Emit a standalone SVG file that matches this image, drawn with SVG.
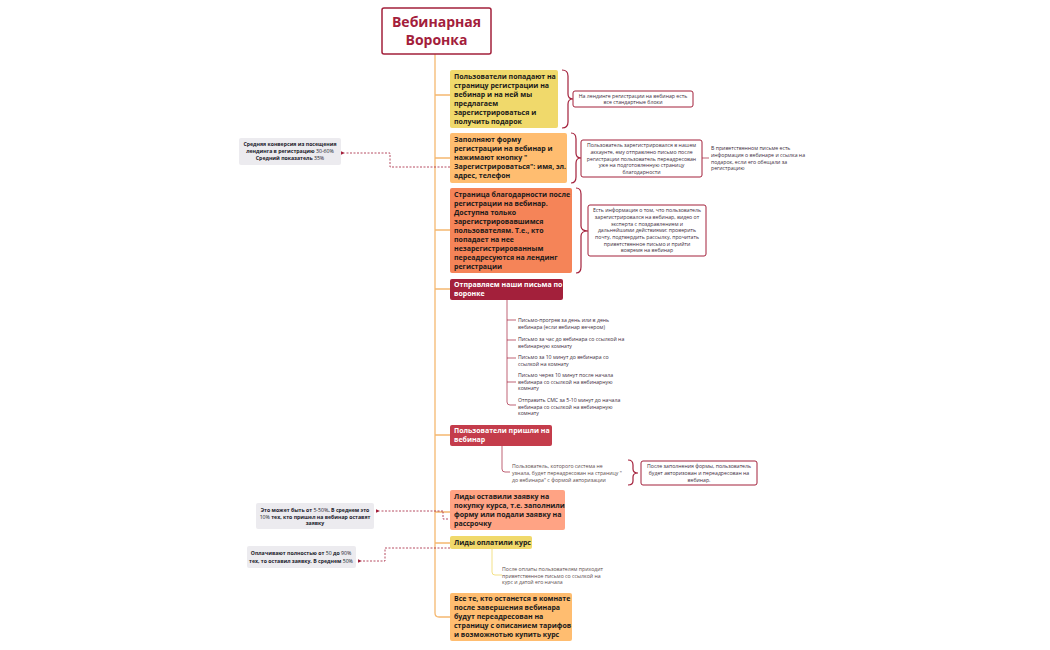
<svg xmlns="http://www.w3.org/2000/svg" width="1050" height="650" viewBox="0 0 1050 650">
<style>
text{font-family:"Open Sans","DejaVu Sans",sans-serif}
.n{font-size:7px;font-weight:bold;fill:#1a1a1a}
.w{font-size:7px;font-weight:bold;fill:#fff}
.s{font-size:5.2px;fill:#3a2a3a}
.sl{font-size:5.2px;fill:#5a4a4a}
.g{font-size:5.2px;font-weight:bold;fill:#1a1a2a}
.box{fill:#fff;stroke:#a3203b;stroke-width:1}
.note{fill:#ecebef;rx:2}
.tr{fill:none;stroke:#f5b870;stroke-width:1.3}
.br{fill:none;stroke:#a3203b;stroke-width:1.2}
.dl{fill:none;stroke:#a3203b;stroke-width:0.8;stroke-dasharray:2 1.5}
.rl{fill:none;stroke:#a3203b;stroke-width:0.7}
</style>
<defs><marker id="a" markerWidth="6" markerHeight="6" refX="1" refY="3" orient="auto"><path d="M6,0.8 L1,3 L6,5.2z" fill="#a3203b"/></marker></defs>
<rect width="1050" height="650" fill="#fff"/>
<g id="connectors">
<path class="tr" d="M435,54 V613 Q435,617 439,617 H450 M435,95 H450 M435,158 H450 M435,230 H450 M435,289 H450 M435,435 H450 M435,512 H450 M435,543 H450"/>
<path class="rl" d="M507,300 V402 Q507,405 510,405 H516 M507,320 H516 M507,340 H516 M507,358 H516 M507,382 H516"/>
<path class="rl" d="M502,446 V469 Q502,472 505,472 H510"/>
<path fill="none" stroke="#f0d96b" stroke-width="0.8" d="M492,549 V572 Q492,575 495,575 H502"/>
<path class="br" d="M562,70 Q568,70 568,76 V94 Q568,99 573,99 Q568,99 568,104 V122 Q568,128 562,128"/>
<path class="br" d="M571,133 Q576,133 576,139 V153 Q576,158 581,158 Q576,158 576,163 V177 Q576,183 571,183"/>
<path class="br" d="M576,188 Q581,188 581,194 V226 Q581,231 588,231 Q581,231 581,236 V267 Q581,273 576,273"/>
<path class="br" d="M628,460 Q633,460 633,465 V469 Q633,473 638,473 Q633,473 633,477 V481 Q633,485 628,485"/>
<path class="rl" d="M702,158 H709"/>
<path class="dl" marker-end="url(#a)" d="M450,167 H390 V153 H345"/>
<path class="dl" d="M448,519 H443 V512"/>
<path class="dl" marker-end="url(#a)" d="M443,511 H380"/>
<path class="dl" marker-end="url(#a)" d="M450,548 H385 V561 H362"/>
</g>
<g id="root"><rect x="382" y="8" width="109" height="46" rx="2" fill="#fff" stroke="#a3203b" stroke-width="1.5"/>
<text x="436.5" y="27" text-anchor="middle" font-size="14" font-weight="bold" fill="#a3203b">Вебинарная</text>
<text x="436.5" y="45" text-anchor="middle" font-size="14" font-weight="bold" fill="#a3203b">Воронка</text></g>
<g id="n1"><rect x="450" y="70" width="108" height="58" rx="2" fill="#f0d96b"/>
<text class="n" x="454"><tspan x="454" y="79">Пользователи попадают на</tspan><tspan x="454" y="88">страницу регистрации на</tspan><tspan x="454" y="97">вебинар и на ней мы</tspan><tspan x="454" y="106">предлагаем</tspan><tspan x="454" y="115">зарегистрироваться и</tspan><tspan x="454" y="124">получить подарок</tspan></text></g>
<g id="n1a"><rect class="box" x="573" y="91" width="120" height="16" rx="2"/>
<text class="s" text-anchor="middle"><tspan x="633" y="98">На лендинге регистрации на вебинар есть</tspan><tspan x="633" y="104">все стандартные блоки</tspan></text></g>
<g id="n2"><rect x="450" y="133" width="117" height="50" rx="2" fill="#ffbd70"/>
<text class="n"><tspan x="454" y="142">Заполняют форму</tspan><tspan x="454" y="151">регистрации на вебинар и</tspan><tspan x="454" y="160">нажимают кнопку "</tspan><tspan x="454" y="169">Зарегистрироваться": имя, эл.</tspan><tspan x="454" y="178">адрес, телефон</tspan></text></g>
<g id="n2a"><rect class="box" x="581" y="140" width="121" height="37" rx="2"/>
<text class="s" text-anchor="middle"><tspan x="641.5" y="147">Пользователь зарегистрировался в нашем</tspan><tspan x="641.5" y="154">аккаунте, ему отправлено письмо после</tspan><tspan x="641.5" y="161">регистрации пользователь переадресован</tspan><tspan x="641.5" y="167">уже на подготовленную страницу</tspan><tspan x="641.5" y="174">благодарности</tspan></text></g>
<g id="n2b"><text class="s"><tspan x="711" y="150">В приветственном письме есть</tspan><tspan x="711" y="157">информация о вебинаре и ссылка на</tspan><tspan x="711" y="164">подарок, если его обещали за</tspan><tspan x="711" y="170">регистрацию</tspan></text></g>
<g id="n2l"><rect class="note" x="239" y="138" width="102" height="27"/>
<text class="g" text-anchor="middle"><tspan x="290" y="146">Средняя конверсия из посещения</tspan><tspan x="290" y="153">лендинга в регистрацию <tspan font-weight="normal">30-60%</tspan></tspan><tspan x="290" y="159.5">Средний показатель <tspan font-weight="normal">35%</tspan></tspan></text></g>
<g id="n3"><rect x="450" y="188" width="122" height="85" rx="2" fill="#f58458"/>
<text class="n"><tspan x="454" y="197">Страница благодарности после</tspan><tspan x="454" y="206">регистрации на вебинар.</tspan><tspan x="454" y="215">Доступна только</tspan><tspan x="454" y="224">зарегистрировавшимся</tspan><tspan x="454" y="233">пользователям. Т.е., кто</tspan><tspan x="454" y="242">попадает на нее</tspan><tspan x="454" y="251">незарегистрированным</tspan><tspan x="454" y="260">переадресуются на лендинг</tspan><tspan x="454" y="269">регистрации</tspan></text></g>
<g id="n3a"><rect class="box" x="588" y="205" width="118" height="51" rx="2"/>
<text class="s" text-anchor="middle"><tspan x="647" y="212">Есть информация о том, что пользователь</tspan><tspan x="647" y="219">зарегистрировался на вебинар, видео от</tspan><tspan x="647" y="226">эксперта с поздравлением и</tspan><tspan x="647" y="232">дальнейшими действиями: проверить</tspan><tspan x="647" y="239">почту, подтвердить рассылку, прочитать</tspan><tspan x="647" y="246">приветственное письмо и прийти</tspan><tspan x="647" y="252">вовремя на вебинар</tspan></text></g>
<g id="n4"><rect x="450" y="279" width="113" height="21" rx="2" fill="#a3203b"/>
<text class="w"><tspan x="454" y="287">Отправляем наши письма по</tspan><tspan x="454" y="296">воронке</tspan></text></g>
<g id="n4a"><text class="s"><tspan x="518" y="322">Письмо-прогрев за день или в день</tspan><tspan x="518" y="328.5">вебинара (если вебинар вечером)</tspan><tspan x="518" y="341">Письмо за час до вебинара со ссылкой на</tspan><tspan x="518" y="347.5">вебинарную комнату</tspan><tspan x="518" y="359">Письмо за 10 минут до вебинара со</tspan><tspan x="518" y="365.5">ссылкой на комнату</tspan><tspan x="518" y="377">Письмо через 10 минут после начала</tspan><tspan x="518" y="383.5">вебинара со ссылкой на вебинарную</tspan><tspan x="518" y="390">комнату</tspan><tspan x="518" y="402">Отправить СМС за 5-10  минут до начала</tspan><tspan x="518" y="408.5">вебинара со ссылкой на вебинарную</tspan><tspan x="518" y="415">комнату</tspan></text></g>
<g id="n5"><rect x="450" y="425" width="102" height="21" rx="2" fill="#c43c4b"/>
<text class="w"><tspan x="454" y="433">Пользователи пришли на</tspan><tspan x="454" y="442">вебинар</tspan></text></g>
<g id="n5a"><text class="sl"><tspan x="512" y="468">Пользователь, которого система не</tspan><tspan x="512" y="475">узнала, будет переадресован на страницу "</tspan><tspan x="512" y="482">до вебинара" с формой авторизации</tspan></text></g>
<g id="n5b"><rect class="box" x="641" y="461" width="116" height="24" rx="2"/>
<text class="s" text-anchor="middle"><tspan x="699" y="468">После заполнения формы, пользователь</tspan><tspan x="699" y="475">будет авторизован и переадресован на</tspan><tspan x="699" y="481.5">вебинар.</tspan></text></g>
<g id="n6"><rect x="450" y="490" width="115" height="40" rx="2" fill="#ffa384"/>
<text class="n"><tspan x="454" y="499">Лиды оставили заявку на</tspan><tspan x="454" y="508">покупку курса, т.е. заполнили</tspan><tspan x="454" y="517">форму или подали заявку на</tspan><tspan x="454" y="526">рассрочку</tspan></text></g>
<g id="n6l"><rect class="note" x="256" y="503" width="118" height="26"/>
<text class="g" text-anchor="middle"><tspan x="315" y="512">Это может быть от <tspan font-weight="normal">5-50%</tspan>. В среднем это</tspan><tspan x="315" y="518.5"><tspan font-weight="normal">10%</tspan> тех, кто пришел на вебинар оставят</tspan><tspan x="315" y="525">заявку</tspan></text></g>
<g id="n7"><rect x="450" y="536" width="82" height="13" rx="2" fill="#f0d96b"/>
<text class="n" x="454" y="545">Лиды оплатили курс</text></g>
<g id="n7l"><rect class="note" x="247" y="546" width="109" height="22"/>
<text class="g" text-anchor="middle"><tspan x="301" y="555">Оплачивают полностью от <tspan font-weight="normal">50</tspan> до <tspan font-weight="normal">90%</tspan></tspan><tspan x="301" y="563">тех, то оставил заявку. В среднем <tspan font-weight="normal">50%</tspan></tspan></text></g>
<g id="n7a"><text class="sl" fill="#6a6a50"><tspan x="502" y="571">После оплаты пользователям приходит</tspan><tspan x="502" y="577.5">приветственное письмо со ссылкой на</tspan><tspan x="502" y="584">курс и датой его начала</tspan></text></g>
<g id="n8"><rect x="450" y="593" width="122" height="48" rx="2" fill="#ffbd70"/>
<text class="n"><tspan x="454" y="601">Все те, кто останется в комнате</tspan><tspan x="454" y="610">после завершения вебинара</tspan><tspan x="454" y="619">будут переадресован на</tspan><tspan x="454" y="628">страницу с описанием тарифов</tspan><tspan x="454" y="637">и возможнотью купить курс</tspan></text></g>
</svg>
